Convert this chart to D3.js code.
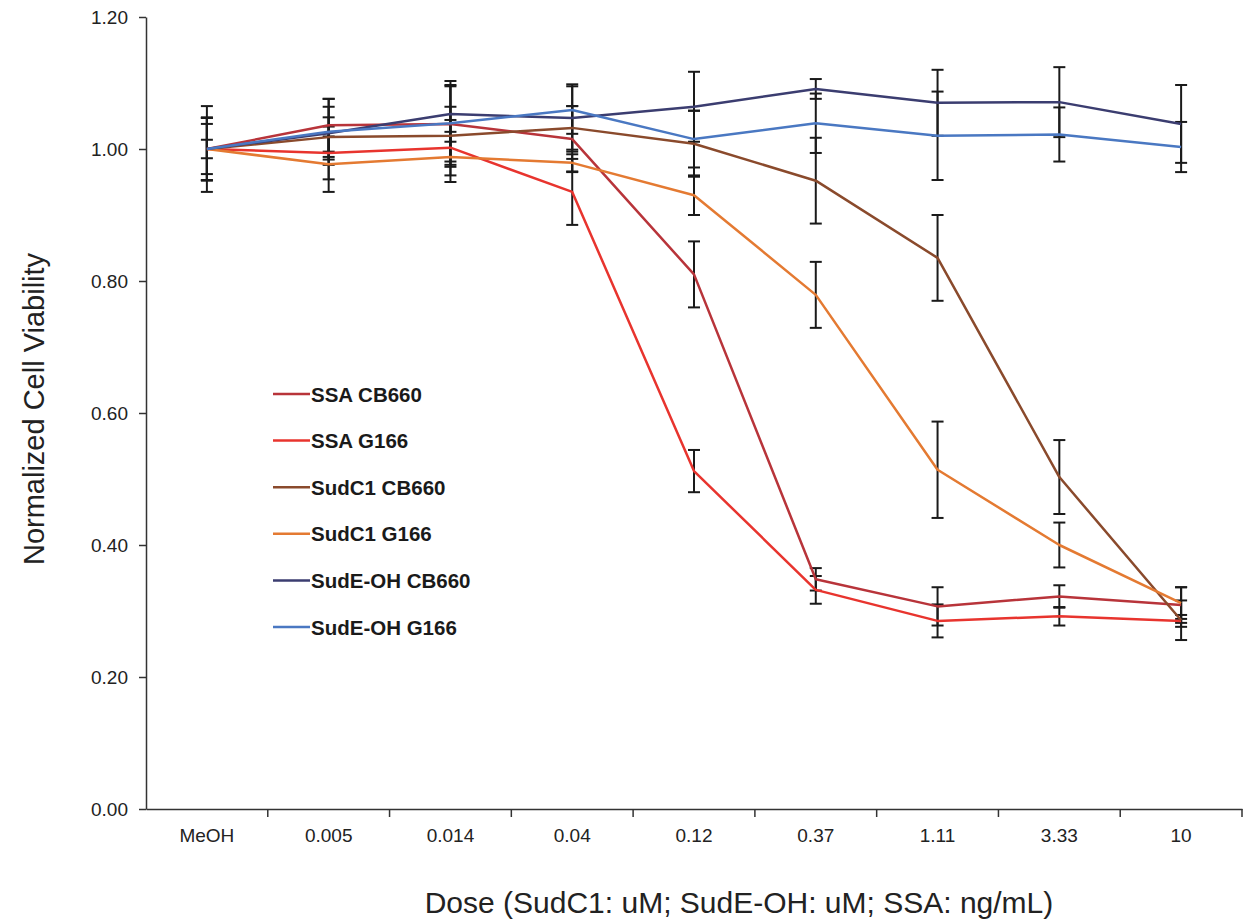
<!DOCTYPE html>
<html>
<head>
<meta charset="utf-8">
<script src="https://cdn.jsdelivr.net/npm/d3@7"></script>
<style>
  body { margin: 0; background: #fff; }
  svg { font-family: "Liberation Sans", Arial, sans-serif; }
  .tick-lab { font-size: 19px; fill: #222; }
  .legend-text { font-size: 20.5px; font-weight: bold; fill: #1a1a1a; }
</style>
</head>
<body>
<script>
var doses = ["MeOH", "0.005", "0.014", "0.04", "0.12", "0.37", "1.11", "3.33", "10"];
var seriesNames = ["SSA CB660", "SSA G166", "SudC1 CB660", "SudC1 G166", "SudE-OH CB660", "SudE-OH G166"];
var seriesColors = ["#b8343a", "#e8342e", "#8a4a2c", "#e47a32", "#3b3d70", "#4a78c2"];

var ssaCB660    = [1.000, 1.036, 1.038, 1.015, 0.810, 0.348, 0.307, 0.322, 0.309];
var ssaG166     = [1.000, 0.994, 1.002, 0.935, 0.512, 0.332, 0.285, 0.292, 0.285];
var sudC1CB660  = [1.000, 1.018, 1.020, 1.032, 1.008, 0.952, 0.835, 0.503, 0.286];
var sudC1G166   = [1.000, 0.977, 0.988, 0.979, 0.930, 0.779, 0.514, 0.400, 0.312];
var sudEOHCB660 = [1.000, 1.024, 1.053, 1.047, 1.064, 1.091, 1.070, 1.071, 1.038];
var sudEOHG166  = [1.000, 1.026, 1.039, 1.059, 1.015, 1.039, 1.020, 1.022, 1.003];

var errSsaCB660    = [0.048, 0.040, 0.065, 0.050, 0.050, 0.017, 0.029, 0.017, 0.027];
var errSsaG166     = [0.065, 0.040, 0.042, 0.050, 0.032, 0.021, 0.025, 0.014, 0.009];
var errSudC1CB660  = [0.038, 0.030, 0.044, 0.033, 0.050, 0.065, 0.065, 0.056, 0.030];
var errSudC1G166   = [0.047, 0.042, 0.038, 0.013, 0.030, 0.050, 0.073, 0.034, 0.024];
var errSudEOHCB660 = [0.014, 0.040, 0.042, 0.051, 0.053, 0.015, 0.050, 0.053, 0.059];
var errSudEOHG166  = [0.047, 0.050, 0.058, 0.036, 0.043, 0.045, 0.067, 0.041, 0.038];

var yTicks = [0, 0.2, 0.4, 0.6, 0.8, 1.0, 1.2];

var values = [ssaCB660, ssaG166, sudC1CB660, sudC1G166, sudEOHCB660, sudEOHG166];
var errors = [errSsaCB660, errSsaG166, errSudC1CB660, errSudC1G166, errSudEOHCB660, errSudEOHG166];

var width = 1248, height = 923;
var svg = d3.select("body").append("svg")
    .attr("width", width)
    .attr("height", height);

var x = d3.scaleBand().domain(doses).range([146, 1242]);
var y = d3.scaleLinear().domain([0, 1.2]).range([809, 17]);

// y axis
var yAxis = svg.append("g")
    .attr("transform", "translate(146,0)")
    .call(d3.axisLeft(y).tickValues(yTicks).tickSize(7).tickSizeOuter(0)
        .tickFormat(d3.format(".2f")));
yAxis.select(".domain").attr("stroke", "#333").attr("stroke-width", 1.5);
yAxis.selectAll(".tick line").attr("stroke", "#333").attr("stroke-width", 1.5);
yAxis.selectAll(".tick text").attr("class", "tick-lab").attr("x", -18);

// x axis, labels at band centres, ticks at band boundaries
var xAxis = svg.append("g")
    .attr("transform", "translate(0,809)")
    .call(d3.axisBottom(x).tickSize(0).tickSizeOuter(0));
xAxis.select(".domain").attr("stroke", "#333").attr("stroke-width", 1.5);
xAxis.selectAll(".tick text").attr("class", "tick-lab")
    .attr("y", 33).attr("dy", 0);

var bounds = doses.map(function(d) { return x(d); }).concat([x.range()[1]]);
svg.append("g").selectAll("line")
    .data(bounds.slice(1))
    .enter().append("line")
    .attr("x1", function(d) { return d; })
    .attr("x2", function(d) { return d; })
    .attr("y1", 809)
    .attr("y2", 817)
    .attr("stroke", "#333")
    .attr("stroke-width", 1.5);

// axis titles
svg.append("text")
    .attr("transform", "translate(44,409) rotate(-90)")
    .attr("text-anchor", "middle")
    .style("font-size", "29px")
    .style("fill", "#222")
    .text("Normalized Cell Viability");

svg.append("text")
    .attr("x", 739)
    .attr("y", 913)
    .attr("text-anchor", "middle")
    .style("font-size", "30px")
    .style("fill", "#222")
    .text("Dose (SudC1: uM; SudE-OH: uM; SSA: ng/mL)");

var cx = function(i) { return x(doses[i]) + x.bandwidth() / 2; };
var line = d3.line()
    .x(function(d, i) { return cx(i); })
    .y(function(d) { return y(d); });

// error bars first, lines drawn on top
values.forEach(function(vals, s) {
    var g = svg.append("g").attr("class", "err");
    vals.forEach(function(v, i) {
        var e = errors[s][i];
        var px = cx(i);
        g.append("line")
            .attr("x1", px).attr("x2", px)
            .attr("y1", y(v + e)).attr("y2", y(v - e))
            .attr("stroke", "#1a1a1a").attr("stroke-width", 2);
        [v + e, v - e].forEach(function(c) {
            g.append("line")
                .attr("x1", px - 6).attr("x2", px + 6)
                .attr("y1", y(c)).attr("y2", y(c))
                .attr("stroke", "#1a1a1a").attr("stroke-width", 2);
        });
    });
});

values.forEach(function(vals, s) {
    svg.append("path")
        .attr("d", line(vals))
        .attr("fill", "none")
        .attr("stroke", seriesColors[s])
        .attr("stroke-width", 2.5)
        .attr("stroke-linejoin", "round");
});

// legend
var legend = svg.append("g").attr("transform", "translate(273,394)");
seriesNames.forEach(function(n, i) {
    var ly = i * 46.6;
    legend.append("line")
        .attr("x1", 0).attr("x2", 37)
        .attr("y1", ly).attr("y2", ly)
        .attr("stroke", seriesColors[i])
        .attr("stroke-width", 2.5);
    legend.append("text")
        .attr("class", "legend-text")
        .attr("x", 38)
        .attr("y", ly + 7.5)
        .text(n);
});
</script>
</body>
</html>
